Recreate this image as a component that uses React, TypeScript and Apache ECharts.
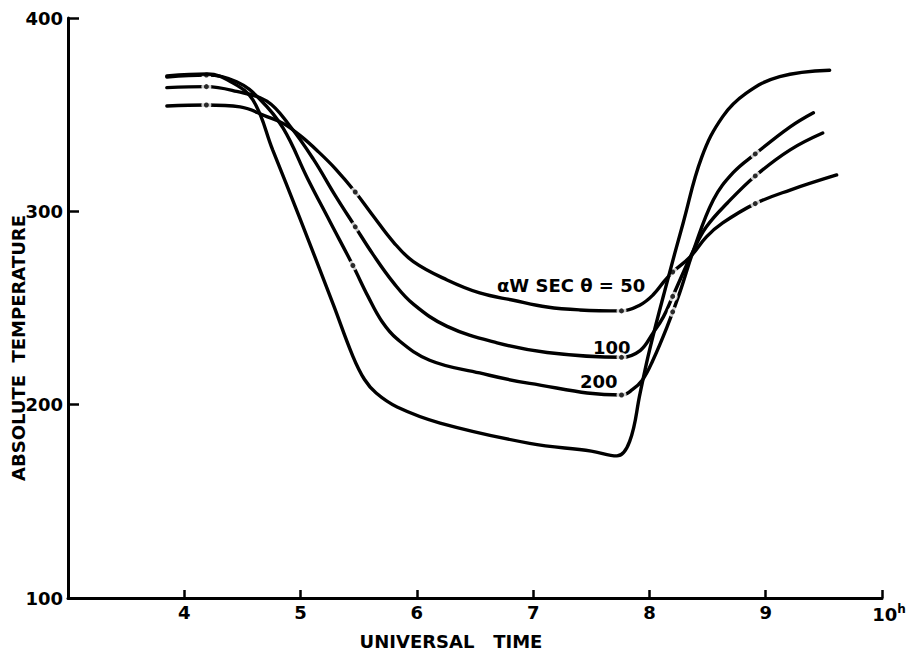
import React, { useEffect, useRef } from "react";
import * as echarts from "echarts";

// Curve αW sec θ = 50
const t50 = [3.85, 4.19, 4.48, 4.71, 4.85, 5.0, 5.15, 5.3, 5.47, 5.62, 5.8, 5.97, 6.26, 6.54, 6.83, 7.12, 7.4, 7.76, 7.92, 8.03, 8.13, 8.2, 8.35, 8.49, 8.63, 8.91, 9.21, 9.61];
const v50 = [354.5, 355, 354, 349, 345.5, 339, 331, 322, 310, 298, 284, 274, 264.5, 257.8, 254, 250.5, 249, 248.5, 251.6, 256.7, 264, 268.6, 276.4, 286.8, 294, 304, 311, 318.8];

// Curve 100
const t100 = [3.85, 4.19, 4.45, 4.71, 4.91, 5.11, 5.3, 5.47, 5.62, 5.8, 5.97, 6.26, 6.69, 7.12, 7.76, 7.92, 8.03, 8.12, 8.2, 8.38, 8.49, 8.67, 8.91, 9.21, 9.49];
const v100 = [364, 364.5, 362, 357, 344, 327, 308, 292, 278, 263, 252, 240.5, 232, 227, 224.5, 228, 237, 245.4, 256, 280, 292, 304.3, 318.3, 331.8, 340.5];

// Curve 200
const t200 = [3.85, 4.19, 4.45, 4.65, 4.85, 5.06, 5.25, 5.45, 5.58, 5.7, 5.83, 6.11, 6.54, 6.97, 7.76, 7.85, 7.94, 8.03, 8.15, 8.26, 8.38, 8.55, 8.72, 8.91, 9.21, 9.41];
const v200 = [369.5, 370.5, 367, 358, 343, 317, 295, 272, 256, 243, 234, 223, 216.4, 211, 205, 207.6, 212.8, 223, 240, 257.8, 280, 306, 320, 329.7, 343.7, 351];

// Lowest (unlabelled) curve
const tLow = [3.85, 4.2, 4.4, 4.59, 4.76, 4.99, 5.28, 5.45, 5.55, 5.65, 5.83, 6.2, 6.97, 7.5, 7.72, 7.83, 7.92, 8.0, 8.15, 8.29, 8.45, 8.63, 8.83, 9.12, 9.55];
const vLow = [370, 371, 367, 357.6, 331.8, 297, 252, 225, 213, 206, 198.8, 190.5, 180, 176, 173.5, 181, 206, 228, 263, 294, 328, 349, 361, 369.7, 373];

// Dash-dot marks along the curves
const dotT = [4.19, 4.19, 4.19, 5.47, 5.47, 5.45, 7.76, 7.76, 7.76, 8.2, 8.2, 8.2, 8.91, 8.91, 8.91];
const dotV = [355, 364.5, 370.5, 310, 292, 272, 248.5, 224.5, 205, 268.6, 256, 248, 304, 318.3, 329.7];

const xTicks = [4, 5, 6, 7, 8, 9, 10];
const yTicks = [100, 200, 300, 400];

const FONT = "DejaVu Sans";

const zip = (a: number[], b: number[]) => a.map((x, i) => [x, b[i]]);

export default function App() {
  const ref = useRef<HTMLDivElement>(null);
  useEffect(() => {
    if (!ref.current) return;
    const chart = echarts.init(ref.current, undefined, { renderer: "svg" });
    const lineSeries = (data: number[][], z: number) => ({
      type: "line",
      data,
      smooth: 0.4,
      showSymbol: false,
      symbol: "none",
      z,
      lineStyle: { color: "#000", width: 3.4, cap: "round" },
    });
    const dots = zip(dotT, dotV);
    chart.setOption({
      animation: false,
      backgroundColor: "#fff",
      grid: { left: 68, right: 26, top: 18, bottom: 52, containLabel: false, outerBoundsMode: "none" },
      xAxis: {
        type: "value",
        min: 3,
        max: 10,
        interval: 1,
        splitLine: { show: false },
        axisLine: { lineStyle: { color: "#000", width: 3 } },
        axisTick: {
          inside: true,
          length: 8,
          lineStyle: { color: "#000", width: 2.5 },
        },
        axisLabel: {
          margin: 5,
          color: "#000",
          fontFamily: FONT,
          fontWeight: "bold",
          fontSize: 18,
          formatter: (v: number) => {
            if (!xTicks.includes(v)) return "";
            if (v === 10) return "{p|}{a|10}{h|h}";
            return "{a|" + v + "}";
          },
          rich: {
            p: { width: 14 },
            a: { fontFamily: FONT, fontWeight: "bold", fontSize: 18, color: "#000" },
            h: { fontFamily: FONT, fontWeight: "bold", fontSize: 12, color: "#000", padding: [0, 0, 10, 0] },
          },
        },
      },
      yAxis: {
        type: "value",
        min: 100,
        max: 400,
        interval: 100,
        splitLine: { show: false },
        axisLine: { show: true, lineStyle: { color: "#000", width: 3 } },
        axisTick: {
          show: true,
          inside: true,
          length: 11,
          lineStyle: { color: "#000", width: 2.5 },
        },
        axisLabel: {
          margin: 5,
          color: "#000",
          fontFamily: FONT,
          fontWeight: "bold",
          fontSize: 18,
          formatter: (v: number) => (yTicks.includes(v) ? String(v) : ""),
        },
      },
      series: [
        lineSeries(zip(t50, v50), 1),
        lineSeries(zip(t100, v100), 1),
        lineSeries(zip(t200, v200), 1),
        {
          type: "scatter",
          data: dots,
          symbol: "circle",
          symbolSize: 10,
          z: 2,
          itemStyle: { color: "#fff" },
          silent: true,
        },
        lineSeries(zip(tLow, vLow), 3),
        {
          type: "scatter",
          data: dots,
          symbol: "circle",
          symbolSize: 5,
          z: 4,
          itemStyle: { color: "#000" },
          silent: true,
        },
      ],
      graphic: [
        {
          type: "text",
          x: 18,
          y: 348,
          rotation: Math.PI / 2,
          style: {
            text: "ABSOLUTE  TEMPERATURE",
            fill: "#000",
            font: `bold 18px "${FONT}"`,
            align: "center",
            verticalAlign: "middle",
          },
        },
        {
          type: "text",
          x: 451,
          y: 641,
          style: {
            text: "UNIVERSAL   TIME",
            fill: "#000",
            font: `bold 18px "${FONT}"`,
            align: "center",
            verticalAlign: "middle",
          },
        },
        {
          type: "text",
          x: 497,
          y: 285,
          style: {
            text: "αW SEC θ = 50",
            fill: "#000",
            font: `bold 18px "${FONT}"`,
            align: "left",
            verticalAlign: "middle",
          },
        },
        {
          type: "text",
          x: 593,
          y: 347,
          style: {
            text: "100",
            fill: "#000",
            font: `bold 18px "${FONT}"`,
            align: "left",
            verticalAlign: "middle",
          },
        },
        {
          type: "text",
          x: 580,
          y: 381,
          style: {
            text: "200",
            fill: "#000",
            font: `bold 18px "${FONT}"`,
            align: "left",
            verticalAlign: "middle",
          },
        },
      ],
    });
    return () => chart.dispose();
  }, []);
  return <div ref={ref} style={{ width: 908, height: 650, position: "absolute", left: 0, top: 0 }} />;
}
